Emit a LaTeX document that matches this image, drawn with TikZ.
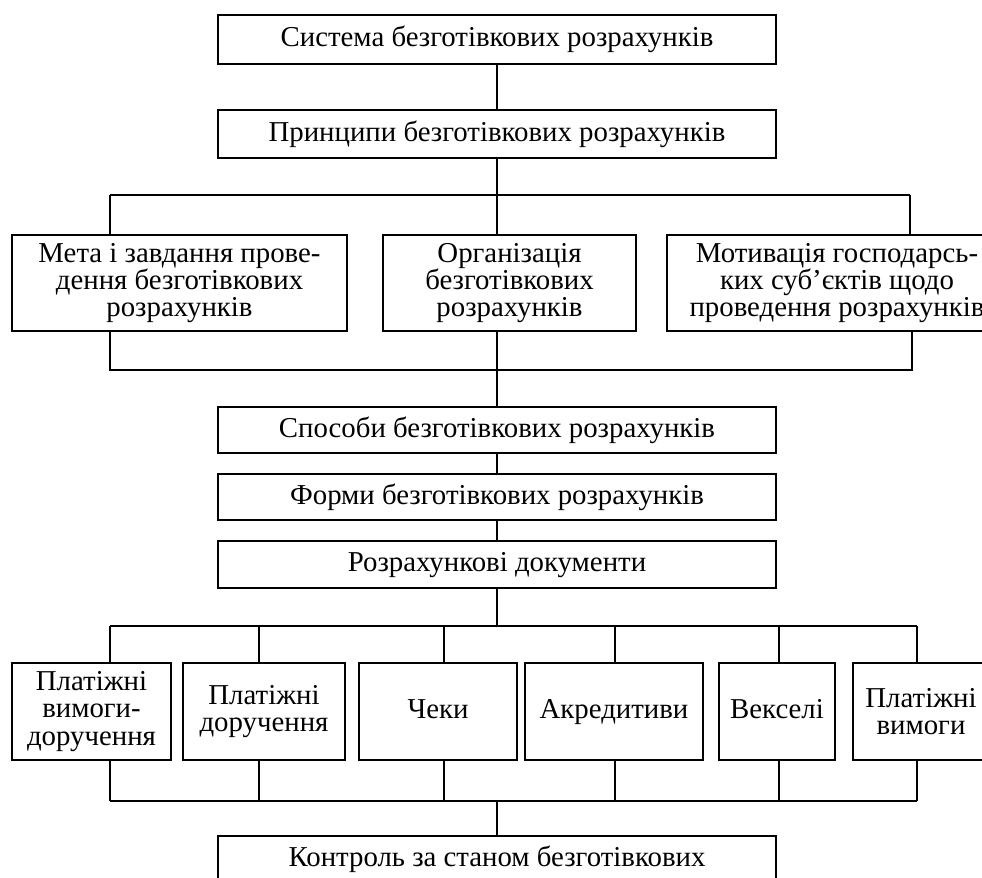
\documentclass[tikz,border=0pt]{standalone}
\usepackage{fontspec}
\setmainfont{Liberation Serif}
\def\px{0.02cm}
\begin{document}
\begin{tikzpicture}[x=0.02cm,y=-0.02cm,line width=1.1pt,
  box/.style={draw,line width=1.1pt,align=center,inner sep=0pt,
    font=\fontsize{16.4}{15.6}\selectfont},
  oneline/.style={text height=11.5pt,text depth=3.5pt}]
\clip (0,0) rectangle (982,877);
% upper column
\node[box,oneline,minimum width=558*\px,minimum height=49*\px] (sys) at (497,39.5) {Система безготівкових розрахунків};
\node[box,oneline,minimum width=558*\px,minimum height=48*\px] (princ) at (497,134) {Принципи безготівкових розрахунків};

\node[box,minimum width=335*\px,minimum height=96*\px] (meta) at (179.5,283) {Мета і завдання прове-\\дення безготівкових\\розрахунків};
\node[box,minimum width=253*\px,minimum height=96*\px] (org) at (509.5,283) {Організація\\безготівкових\\розрахунків};
\node[box,minimum width=340*\px,minimum height=96*\px] (motiv) at (837,283) {Мотивація господарсь-\\ких суб’єктів щодо\\проведення розрахунків};

\node[box,oneline,minimum width=558*\px,minimum height=46*\px] (sposoby) at (497,430) {Способи безготівкових розрахунків};
\node[box,oneline,minimum width=558*\px,minimum height=46*\px] (formy) at (497,497) {Форми безготівкових розрахунків};
\node[box,oneline,minimum width=558*\px,minimum height=47*\px] (docs) at (497,564.5) {Розрахункові документи};

% documents row
\node[box,minimum width=159*\px,minimum height=97*\px] (d1) at (91.5,711.5) {Платіжні\\вимоги-\\доручення};
\node[box,minimum width=162*\px,minimum height=97*\px] (d2) at (264,711.5) {Платіжні\\доручення};
\node[box,oneline,minimum width=158*\px,minimum height=97*\px] (d3) at (438,711.5) {Чеки};
\node[box,oneline,minimum width=178*\px,minimum height=97*\px] (d4) at (614,711.5) {Акредитиви};
\node[box,oneline,minimum width=116*\px,minimum height=97*\px] (d5) at (777,711.5) {Векселі};
\node[box,minimum width=136*\px,minimum height=97*\px] (d6) at (921,711.5) {Платіжні\\вимоги};

\node[box,anchor=north,minimum width=558*\px,text height=17.5pt,text depth=40pt] (kontrol) at (497,835) {Контроль за станом безготівкових};

% buses
\coordinate (ta) at (110,195);
\coordinate (tb) at (497,195);
\coordinate (tc) at (910,195);
\coordinate (ua) at (110,370);
\coordinate (ub) at (497,370);
\coordinate (uc) at (912,370);
\coordinate (va) at (110,626);
\coordinate (vb) at (497,626);
\coordinate (vc) at (917,626);
\coordinate (wa) at (110,801);
\coordinate (wb) at (497,801);
\coordinate (wc) at (917,801);

\draw (sys) -- (princ);
\draw (princ) -- (tb);
\draw (ta) -- (tc);
\draw (ta) -- (ta |- meta.north);
\draw (tb) -- (tb |- org.north);
\draw (tc) -- (tc |- motiv.north);

\draw (ua |- meta.south) -- (ua) -- (uc) -- (uc |- motiv.south);
\draw (ub |- org.south) -- (sposoby);
\draw (sposoby) -- (formy);
\draw (formy) -- (docs);

\draw (docs) -- (vb);
\draw (va) -- (vc);
\draw (wa) -- (wc);
\draw (wb) -- (kontrol);
\foreach \n/\x in {d1/110,d2/259,d3/444,d4/615,d5/779,d6/917}{
  \draw (\x,626) -- (\x,626 |- \n.north);
  \draw (\x,626 |- \n.south) -- (\x,801);
}
\end{tikzpicture}
\end{document}
